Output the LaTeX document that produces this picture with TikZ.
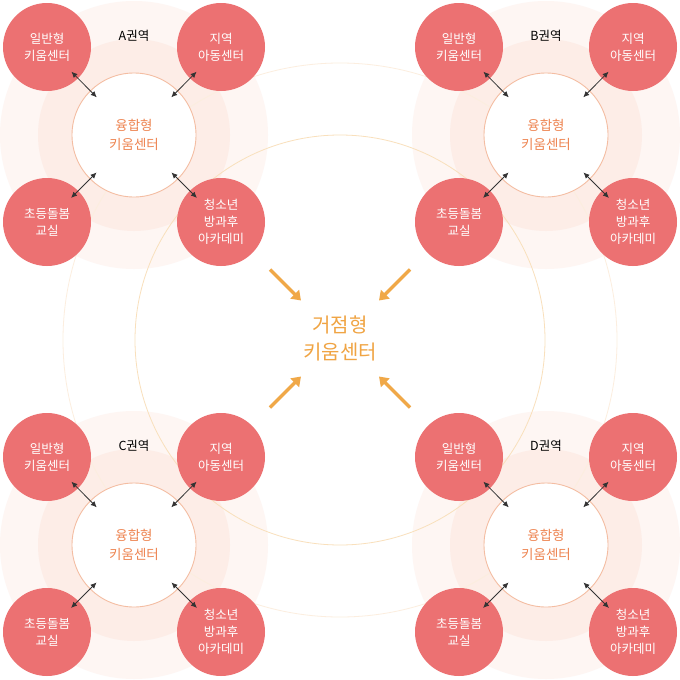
\documentclass[tikz,border=0pt]{standalone}
\usepackage{fontspec}
\setmainfont{Noto Sans CJK KR}
\usetikzlibrary{arrows.meta,calc}
\definecolor{redc}{HTML}{EC7172}
\definecolor{bandout}{HTML}{FEF6F3}
\definecolor{bandmid}{HTML}{FDEDE7}
\definecolor{wstroke}{HTML}{F4BDA2}
\definecolor{intext}{HTML}{EE8552}
\definecolor{hubtext}{HTML}{F0A443}
\definecolor{hubarrow}{HTML}{F0A848}
\definecolor{bigout}{HTML}{FCEEDF}
\definecolor{bigin}{HTML}{F9E0BC}
\definecolor{darkarr}{HTML}{333333}
\tikzset{
  redball/.style={circle, fill=redc, inner sep=0pt, minimum size=88pt, text=white, align=center, font=\fontsize{12.5}{17}\selectfont},
  outerband/.style={circle, fill=bandout, inner sep=0pt, minimum size=268pt},
  midband/.style={circle, fill=bandmid, inner sep=0pt, minimum size=192pt},
  whitecore/.style={circle, fill=white, draw=wstroke, line width=0.9pt, inner sep=0pt, minimum size=124pt, text=intext, align=center, font=\fontsize{13.5}{18.5}\selectfont},
  bigring/.style={circle, draw=#1, line width=0.8pt, inner sep=0pt},
  linkarrow/.style={darkarr, line width=0.8pt, {Latex[length=6pt,width=5.5pt]}-{Latex[length=6pt,width=5.5pt]}},
  hubarr/.style={hubarrow, line width=3.5pt, -{Triangle[length=9pt,width=12pt]}},
  regionlabel/.style={font=\fontsize{12.5}{15}\selectfont, text=black}
}
\begin{document}
\begin{tikzpicture}[x=1pt,y=-1pt]
\useasboundingbox (0,0) rectangle (680,680);
\fill[white] (0,0) rectangle (680,680);
% bands
\foreach \n/\cx/\cy in {A/134/135, B/546/135, C/134/545, D/546/545}{
  \node[outerband] (\n-ob) at (\cx,\cy) {};
}
\foreach \n/\cx/\cy in {A/134/135, B/546/135, C/134/545, D/546/545}{
  \node[midband] (\n-mb) at (\cx,\cy) {};
}
% big rings
\node[bigring=bigout, minimum size=554pt] (bigO) at (340,340) {};
\node[bigring=bigin, minimum size=410pt] (bigI) at (340,340) {};
% clusters
\foreach \n/\cx/\cy in {A/134/135, B/546/135, C/134/545, D/546/545}{
  \node[whitecore] (\n-c) at (\cx,\cy) {융합형\\키움센터};
  \node[redball] (\n-1) at ($(\cx,\cy)+(-87,-88)$) {일반형\\키움센터};
  \node[redball] (\n-2) at ($(\cx,\cy)+(87,-88)$) {지역\\아동센터};
  \node[redball] (\n-3) at ($(\cx,\cy)+(-87,87)$) {초등돌봄\\교실};
  \node[redball] (\n-4) at ($(\cx,\cy)+(87,87)$) {청소년\\방과후\\아카데미};
  \node[regionlabel] (\n-lab) at ($(\cx,\cy)+(0,-99)$) {\n{}권역};
  \foreach \k in {1,2,3,4}{
    \draw[linkarrow] ($(\n-c)!53pt!(\n-\k)$) -- ($(\n-c)!89pt!(\n-\k)$);
  }
}
% hub
\node[text=hubtext, align=center, font=\fontsize{20}{27}\selectfont] (hub) at (340,338.5) {거점형\\키움센터};
\coordinate (hc) at (340,338.5);
\draw[hubarr] ($(hc)+(-70,-69)$) -- ($(hc)+(-39,-38)$);
\draw[hubarr] ($(hc)+(70,-69)$) -- ($(hc)+(39,-38)$);
\draw[hubarr] ($(hc)+(-70,69)$) -- ($(hc)+(-39,38)$);
\draw[hubarr] ($(hc)+(70,69)$) -- ($(hc)+(39,38)$);
\end{tikzpicture}
\end{document}
